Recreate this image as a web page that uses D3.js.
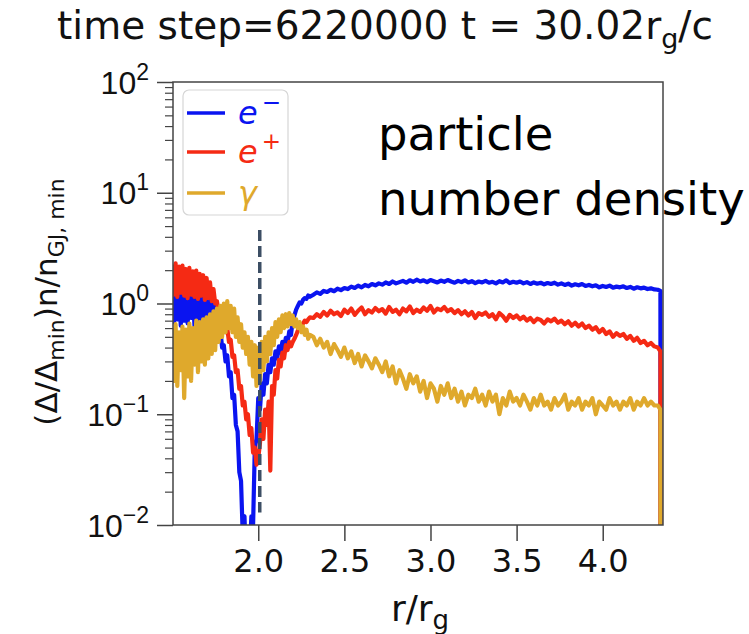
<!DOCTYPE html>
<html><head><meta charset="utf-8">
<script src="https://cdn.jsdelivr.net/npm/d3@7"></script>
<style>body{margin:0;background:#fff}svg{display:block;font-family:"DejaVu Sans",sans-serif}</style>
</head><body>
<svg id="c" width="749" height="634"></svg>
<script>
// radius grid r/r_g
const r = [
1.50,1.51,1.52,1.53,1.54,1.55,1.56,1.57,1.58,1.59,
1.60,1.61,1.62,1.63,1.64,1.65,1.66,1.67,1.68,1.69,
1.70,1.71,1.72,1.73,1.74,1.75,1.76,1.77,1.78,1.79,
1.80,1.81,1.82,1.83,1.84,1.85,1.86,1.87,1.88,1.89,
1.90,1.91,1.92,1.93,1.94,1.95,1.96,1.97,1.98,1.99,
2.00,2.01,2.02,2.03,2.04,2.05,2.06,2.07,2.08,2.09,
2.10,2.11,2.12,2.13,2.14,2.15,2.16,2.17,2.18,2.19,
2.20,2.21,2.22,2.23,2.24,2.25,2.26,2.27,2.28,2.29,
2.30,
2.32,2.34,2.36,2.38,2.40,2.42,2.44,2.46,2.48,2.50,
2.52,2.54,2.56,2.58,2.60,2.62,2.64,2.66,2.68,2.70,
2.72,2.74,2.76,2.78,2.80,2.82,2.84,2.86,2.88,2.90,
2.92,2.94,2.96,2.98,3.00,3.02,3.04,3.06,3.08,3.10,
3.12,3.14,3.16,3.18,3.20,3.22,3.24,3.26,3.28,3.30,
3.32,3.34,3.36,3.38,3.40,3.42,3.44,3.46,3.48,3.50,
3.52,3.54,3.56,3.58,3.60,3.62,3.64,3.66,3.68,3.70,
3.72,3.74,3.76,3.78,3.80,3.82,3.84,3.86,3.88,3.90,
3.92,3.94,3.96,3.98,4.00,4.02,4.04,4.06,4.08,4.10,
4.12,4.14,4.16,4.18,4.20,4.22,4.24,4.26,4.28,4.30,
4.32,4.335,4.336];

// electrons e-
const electrons = [
1.40,0.68,1.35,0.72,1.30,0.63,1.38,0.70,1.25,0.66,
1.32,0.74,1.22,0.62,1.28,0.70,1.20,0.65,1.18,0.72,
1.15,0.68,1.10,0.75,1.05,0.80,0.80,0.55,0.58,0.40,
0.42,0.30,0.34,0.22,0.24,0.14,0.15,0.08,0.07,0.03,
0.025,0.008,0.012,0.004,0.007,0.005,0.012,0.01,0.05,0.06,
0.14,0.11,0.19,0.15,0.23,0.19,0.28,0.24,0.32,0.28,
0.37,0.32,0.41,0.36,0.45,0.40,0.49,0.44,0.56,0.52,
0.70,0.78,0.88,0.95,1.02,1.00,1.08,1.12,1.10,1.18,
1.15,
1.20,1.26,1.22,1.30,1.27,1.33,1.29,1.36,1.32,1.38,
1.35,1.42,1.38,1.45,1.40,1.47,1.43,1.50,1.46,1.52,
1.48,1.55,1.50,1.58,1.52,1.56,1.60,1.54,1.62,1.57,
1.64,1.58,1.62,1.56,1.63,1.59,1.55,1.61,1.57,1.63,
1.58,1.54,1.60,1.56,1.62,1.55,1.59,1.53,1.58,1.55,
1.60,1.54,1.57,1.52,1.59,1.55,1.62,1.53,1.57,1.54,
1.58,1.52,1.56,1.50,1.55,1.51,1.54,1.49,1.53,1.50,
1.54,1.48,1.52,1.47,1.51,1.45,1.49,1.46,1.50,1.44,
1.47,1.43,1.46,1.40,1.44,1.41,1.45,1.39,1.42,1.40,
1.43,1.38,1.41,1.36,1.40,1.37,1.39,1.35,1.37,1.34,
1.33,1.30,0.0001];

// positrons e+
const positrons = [
2.25,1.20,2.30,1.15,2.15,1.25,2.20,1.18,2.05,1.12,
2.10,1.20,1.95,1.15,1.98,1.10,1.85,1.18,1.80,1.08,
1.70,1.12,1.55,1.05,1.35,1.00,1.05,0.85,0.88,0.70,
0.74,0.55,0.60,0.45,0.47,0.33,0.34,0.24,0.25,0.17,
0.18,0.12,0.13,0.09,0.10,0.065,0.075,0.045,0.05,0.035,
0.04,0.055,0.09,0.06,0.11,0.08,0.13,0.031,0.18,0.15,
0.25,0.21,0.31,0.27,0.36,0.32,0.42,0.38,0.45,0.41,
0.45,0.48,0.52,0.57,0.61,0.64,0.66,0.70,0.68,0.72,
0.75,
0.74,0.80,0.76,0.84,0.78,0.86,0.80,0.83,0.77,0.88,
0.82,0.90,0.79,0.86,0.92,0.80,0.87,0.83,0.91,0.85,
0.89,0.81,0.93,0.84,0.88,0.80,0.90,0.85,0.94,0.82,
0.88,0.84,0.92,0.86,0.95,0.83,0.90,0.87,0.93,0.85,
0.89,0.82,0.87,0.80,0.85,0.78,0.84,0.74,0.82,0.79,
0.83,0.76,0.80,0.72,0.82,0.77,0.70,0.79,0.74,0.78,
0.72,0.76,0.70,0.74,0.68,0.73,0.71,0.66,0.72,0.69,
0.73,0.67,0.70,0.65,0.69,0.63,0.67,0.62,0.66,0.60,
0.63,0.58,0.61,0.55,0.59,0.53,0.56,0.50,0.54,0.51,
0.53,0.48,0.51,0.46,0.49,0.44,0.46,0.42,0.44,0.41,
0.40,0.37,0.0001];

// photons gamma
const photons = [
0.60,0.20,0.65,0.18,0.55,0.25,0.62,0.14,0.58,0.22,
0.66,0.20,0.60,0.28,0.70,0.24,0.68,0.30,0.72,0.28,
0.75,0.32,0.80,0.35,0.85,0.38,0.90,0.45,0.95,0.50,
1.00,0.55,1.05,0.60,0.95,0.55,0.90,0.50,0.75,0.45,
0.65,0.40,0.55,0.35,0.50,0.28,0.45,0.22,0.42,0.18,
0.40,0.20,0.45,0.25,0.50,0.30,0.55,0.35,0.60,0.42,
0.68,0.50,0.72,0.55,0.78,0.60,0.80,0.62,0.82,0.65,
0.78,0.62,0.72,0.60,0.68,0.55,0.62,0.52,0.58,0.48,
0.52,
0.50,0.42,0.48,0.40,0.45,0.35,0.43,0.38,0.33,0.40,
0.32,0.37,0.29,0.35,0.27,0.34,0.30,0.26,0.32,0.28,
0.24,0.30,0.22,0.27,0.19,0.25,0.21,0.17,0.23,0.19,
0.22,0.16,0.20,0.14,0.19,0.17,0.13,0.18,0.15,0.19,
0.14,0.17,0.13,0.16,0.12,0.15,0.14,0.17,0.13,0.15,
0.12,0.16,0.13,0.15,0.10,0.14,0.12,0.16,0.13,0.14,
0.12,0.15,0.13,0.11,0.14,0.12,0.15,0.12,0.13,0.11,
0.14,0.12,0.13,0.15,0.11,0.13,0.12,0.14,0.11,0.13,
0.12,0.14,0.10,0.13,0.12,0.11,0.14,0.12,0.13,0.11,
0.13,0.12,0.14,0.11,0.13,0.12,0.14,0.12,0.13,0.12,
0.12,0.11,0.0001];

const seriesNames = ["e", "e", "γ"];
const seriesSup = ["−", "+", ""];
const seriesColors = ["#0a14f0", "#f52a14", "#dfa92c"];
const xTicks = [2.0, 2.5, 3.0, 3.5, 4.0];
const yMajor = [1e-2, 1e-1, 1e0, 1e1, 1e2];
const yMajorExp = ["−2", "−1", "0", "1", "2"];
const markerR = 2.0;
const markerY = [0.013, 4.6];

const svg = d3.select("#c");
const L = 173, R = 663, T = 82, B = 525;
const x = d3.scaleLinear().domain([1.505, 4.35]).range([L, R]);
const y = d3.scaleLog().domain([0.01, 100]).range([B, T]);

svg.append("clipPath").attr("id", "clip").append("rect")
  .attr("x", L).attr("y", T).attr("width", R - L).attr("height", B - T);

const gData = svg.append("g").attr("clip-path", "url(#clip)");
const line = d3.line().x((d, i) => x(r[i])).y(d => y(Math.max(d, 1e-4)));
[electrons, positrons, photons].forEach((s, k) => {
  gData.append("path").datum(s).attr("d", line)
    .attr("fill", "none").attr("stroke", seriesColors[k])
    .attr("stroke-width", 4.2).attr("stroke-linejoin", "round");
});
// dashed marker
gData.append("line")
  .attr("x1", x(markerR) + 1.5).attr("x2", x(markerR) + 1.5)
  .attr("y1", y(markerY[1])).attr("y2", y(markerY[0]))
  .attr("stroke", "#3c4e64").attr("stroke-width", 3.5)
  .attr("stroke-dasharray", "11,5");

// axes
const axColor = "#444";
const gx = svg.append("g").attr("transform", `translate(0,${B})`)
  .call(d3.axisBottom(x).tickValues(xTicks).tickSize(16).tickPadding(8).tickFormat(d3.format(".1f")));
gx.select(".domain").remove();
gx.selectAll("line").attr("stroke", axColor).attr("stroke-width", 1.5);
gx.selectAll("text").attr("font-size", 32).attr("font-family", "DejaVu Sans").attr("fill", "#111");

const minors = [];
[-2, -1, 0, 1].forEach(k => { for (let m = 2; m <= 9; m++) minors.push(m * Math.pow(10, k)); });
const gyMin = svg.append("g").attr("transform", `translate(${L},0)`)
  .call(d3.axisLeft(y).tickValues(minors).tickSize(8).tickFormat(() => ""));
gyMin.select(".domain").remove();
gyMin.selectAll("line").attr("stroke", axColor).attr("stroke-width", 1.2);

const gy = svg.append("g").attr("transform", `translate(${L},0)`)
  .call(d3.axisLeft(y).tickValues(yMajor).tickSize(16).tickFormat(() => ""));
gy.select(".domain").remove();
gy.selectAll("line").attr("stroke", axColor).attr("stroke-width", 1.5);
gy.selectAll(".tick").each(function (d, i) {
  const t = d3.select(this).append("text").attr("x", -24).attr("y", 11)
    .attr("text-anchor", "end").attr("font-size", 32).attr("fill", "#111");
  t.append("tspan").text("10");
  t.append("tspan").attr("dy", -14).attr("font-size", 23).text(yMajorExp[i]);
});

// frame
svg.append("rect").attr("x", L).attr("y", T).attr("width", R - L).attr("height", B - T)
  .attr("fill", "none").attr("stroke", axColor).attr("stroke-width", 1.5);

// legend
const lg = svg.append("g");
lg.append("rect").attr("x", 183).attr("y", 90).attr("width", 105).attr("height", 125)
  .attr("rx", 6).attr("fill", "#fff").attr("fill-opacity", 0.85)
  .attr("stroke", "#d6d6d6").attr("stroke-width", 1.2);
const legY = [113, 152, 193];
seriesNames.forEach((n, k) => {
  lg.append("line").attr("x1", 187).attr("x2", 225).attr("y1", legY[k]).attr("y2", legY[k])
    .attr("stroke", seriesColors[k]).attr("stroke-width", 3.5);
  const t = lg.append("text").attr("x", 238).attr("y", legY[k] + 11)
    .attr("font-size", 32).attr("font-style", "italic").attr("fill", seriesColors[k]);
  t.append("tspan").text(n);
  if (seriesSup[k]) t.append("tspan").attr("dx", 4).attr("dy", -14).attr("font-size", 23).attr("font-style", "normal").text(seriesSup[k]);
});

// title
const tt = svg.append("text").attr("x", 385).attr("y", 39).attr("text-anchor", "middle")
  .attr("font-size", 39).attr("fill", "#111");
tt.append("tspan").text("time step=6220000 t = 30.02r");
tt.append("tspan").attr("dy", 9).attr("font-size", 27).text("g");
tt.append("tspan").attr("dy", -9).text("/c");

// y label
const yl = svg.append("text").attr("transform", "translate(57,302) rotate(-90)")
  .attr("text-anchor", "middle").attr("font-size", 31).attr("fill", "#111");
yl.append("tspan").text("(Δ/Δ");
yl.append("tspan").attr("dy", 7).attr("font-size", 22).text("min");
yl.append("tspan").attr("dy", -7).text(")n/n");
yl.append("tspan").attr("dy", 7).attr("font-size", 22).text("GJ, min");

// x label
const xl = svg.append("text").attr("x", 420).attr("y", 621).attr("text-anchor", "middle")
  .attr("font-size", 36).attr("fill", "#111");
xl.append("tspan").text("r/r");
xl.append("tspan").attr("dy", 8).attr("font-size", 26).text("g");

// annotation
const an = svg.append("text").attr("font-size", 46.5).attr("fill", "#000");
an.append("tspan").attr("x", 378).attr("y", 150).text("particle");
an.append("tspan").attr("x", 378).attr("y", 215).text("number density");
</script>
</body></html>
